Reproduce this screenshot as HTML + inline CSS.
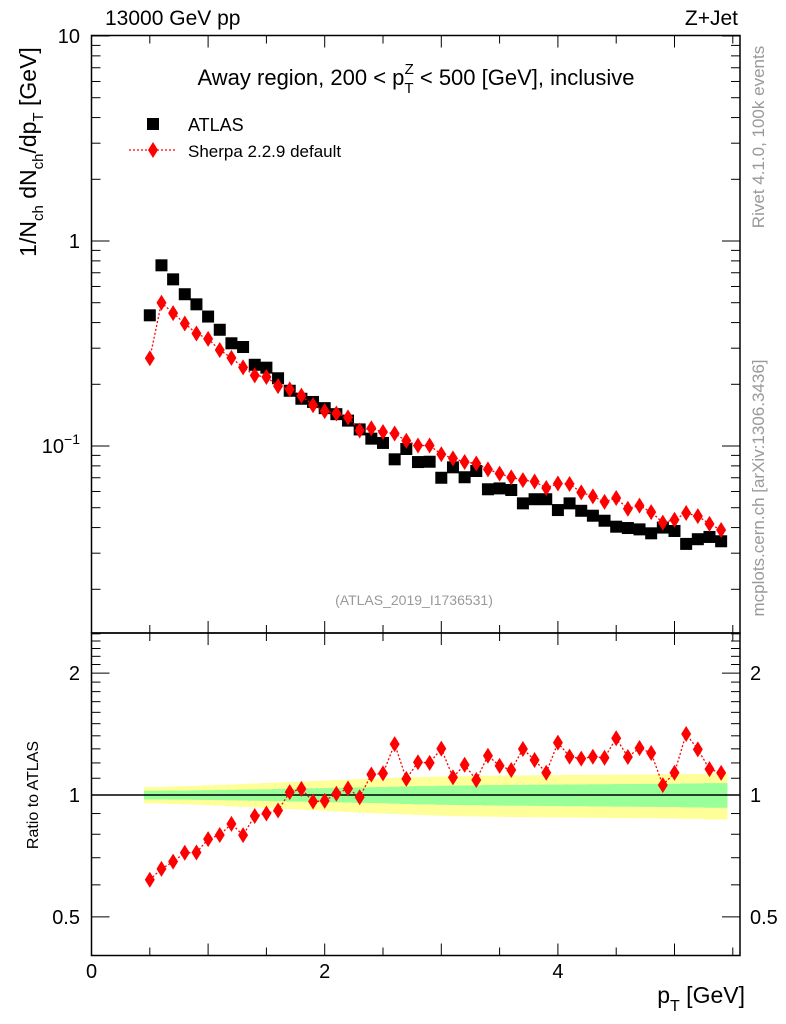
<!DOCTYPE html>
<html><head><meta charset="utf-8"><style>
body{margin:0;background:#fff;}
svg{display:block;font-family:"Liberation Sans",Arial,sans-serif;}
</style></head><body>
<svg id="c" width="786" height="1024" viewBox="0 0 786 1024"></svg>
<script>
const xs=[0.5,0.6,0.7,0.8,0.9,1.0,1.1,1.2,1.3,1.4,1.5,1.6,1.7,1.8,1.9,2.0,2.1,2.2,2.3,2.4,2.5,2.6,2.7,2.8,2.9,3.0,3.1,3.2,3.3,3.4,3.5,3.6,3.7,3.8,3.9,4.0,4.1,4.2,4.3,4.4,4.5,4.6,4.7,4.8,4.9,5.0,5.1,5.2,5.3,5.4];
const atlas=[0.434,0.761,0.650,0.550,0.491,0.428,0.369,0.317,0.304,0.249,0.241,0.214,0.186,0.170,0.164,0.153,0.143,0.133,0.1205,0.1086,0.1035,0.0861,0.0967,0.0835,0.0838,0.0700,0.0787,0.0704,0.0755,0.0615,0.0621,0.0610,0.0525,0.0550,0.0550,0.0487,0.0525,0.0483,0.0457,0.0432,0.0404,0.0398,0.0392,0.0375,0.0400,0.0385,0.0333,0.0351,0.0360,0.0343];
const sherpa=[0.268,0.500,0.445,0.396,0.354,0.333,0.294,0.269,0.242,0.221,0.217,0.196,0.189,0.176,0.158,0.148,0.144,0.138,0.119,0.122,0.117,0.115,0.106,0.1006,0.1006,0.0911,0.0870,0.0836,0.0822,0.0769,0.0733,0.0703,0.0682,0.0671,0.0624,0.0656,0.0653,0.0594,0.0568,0.0534,0.0558,0.0494,0.0512,0.0476,0.0423,0.0437,0.0471,0.0455,0.0417,0.0389];
const statErr=[0.025,0.025,0.026,0.026,0.027,0.028,0.029,0.030,0.031,0.032,0.033,0.035,0.036,0.037,0.039,0.040,0.041,0.042,0.044,0.045,0.046,0.048,0.050,0.052,0.052,0.054,0.055,0.056,0.056,0.058,0.058,0.059,0.059,0.060,0.061,0.061,0.062,0.062,0.063,0.063,0.064,0.064,0.065,0.065,0.066,0.066,0.068,0.068,0.070,0.070];
const totErr=[0.047,0.047,0.050,0.052,0.054,0.057,0.059,0.062,0.065,0.068,0.071,0.074,0.077,0.080,0.083,0.086,0.089,0.092,0.095,0.098,0.100,0.103,0.105,0.107,0.109,0.111,0.113,0.114,0.115,0.116,0.117,0.118,0.118,0.119,0.120,0.120,0.121,0.121,0.122,0.122,0.123,0.123,0.124,0.124,0.125,0.125,0.127,0.127,0.130,0.130];
const yTicks=[{v:10,t:"10"},{v:1,t:"1"}];
const rTicks=[{v:2,t:"2"},{v:1,t:"1"},{v:0.5,t:"0.5"}];
const xTicks=[0,2,4];

const NS="http://www.w3.org/2000/svg";
const svg=document.getElementById('c');
const L=91.5,R=740,T=35.5,M=633,B=955.5;
const X=v=>91.5+v*116.6;
const Y=v=>241-Math.log10(v)*205;
const RY=v=>795-Math.log10(v)*405;
function el(tag,a,parent){const e=document.createElementNS(NS,tag);for(const k in a)e.setAttribute(k,a[k]);(parent||svg).appendChild(e);return e;}
function txt(s,a){const e=el('text',a);e.textContent=s;return e;}

const gB=el('g',{});


xs.forEach((x,i)=>{
  const x0=X(x-0.05),x1=X(x+0.05);
  const ry=el('rect',{x:x0,y:RY(1+totErr[i]),width:x1-x0+0.5,height:RY(1-totErr[i])-RY(1+totErr[i]),fill:'#ffff99'},gB);
  
  
});
xs.forEach((x,i)=>{
  const x0=X(x-0.05),x1=X(x+0.05);
  const rg=el('rect',{x:x0,y:RY(1+statErr[i]),width:x1-x0+0.5,height:RY(1-statErr[i])-RY(1+statErr[i]),fill:'#99ff99'},gB);
  
  
});
const one=el('line',{x1:L,x2:R,y1:RY(1),y2:RY(1),stroke:'#000','stroke-width':1.5});



const f1=el('rect',{x:L,y:T,width:R-L,height:M-T,fill:'none',stroke:'#000','stroke-width':1.5});


const f2=el('rect',{x:L,y:M,width:R-L,height:B-M,fill:'none',stroke:'#000','stroke-width':1.5});



for(let k=0;k<=11;k++){const v=k*0.5,px=X(v);if(px>R)break;const len=(k%2==0)?12:8;
  [[T,T+len],[M,M-len],[M,M+len],[B,B-len]].forEach(p=>el('line',{x1:px,x2:px,y1:p[0],y2:p[1],stroke:'#000','stroke-width':1}));}
xTicks.forEach(v=>{const t=txt(String(v),{x:X(v),y:978,'text-anchor':'middle','font-size':20});
  });
for(let d=-2;d<=1;d++){for(let m=1;m<=9;m++){const v=m*Math.pow(10,d);const py=Y(v);if(py<T-0.5||py>M)continue;const len=m==1?18:9;
  el('line',{x1:L,x2:L+len,y1:py,y2:py,stroke:'#000'});el('line',{x1:R,x2:R-len,y1:py,y2:py,stroke:'#000'});}}
yTicks.forEach(o=>{const t=txt(o.t,{x:80,y:Y(o.v)+7,'text-anchor':'end','font-size':20});
  });
const tm=txt('',{x:80,y:Y(0.1)+7,'text-anchor':'end','font-size':20});
tm.innerHTML='10<tspan dy="-9" font-size="14">−1</tspan>';

[0.5,0.6,0.7,0.8,0.9,1,1.1,1.2,1.3,1.4,1.5,1.6,1.7,1.8,1.9,2,2.1,2.2,2.3,2.4,2.5].forEach(v=>{const py=RY(v);if(py<M)return;const len=(v==0.5||v==1||v==2)?18:9;
  el('line',{x1:L,x2:L+len,y1:py,y2:py,stroke:'#000'});el('line',{x1:R,x2:R-len,y1:py,y2:py,stroke:'#000'});});
rTicks.forEach(o=>{const a=txt(o.t,{x:80,y:RY(o.v)+7,'text-anchor':'end','font-size':20});
  
  const b=txt(o.t,{x:750,y:RY(o.v)+7,'font-size':20});
  });

const gA=el('g',{});
xs.forEach((x,i)=>{const r=el('rect',{x:X(x)-6,y:Y(atlas[i])-6,width:12,height:12,fill:'#000'},gA);
  });
function diamonds(vals,fy,name){
  const g=el('g',{});
  el('polyline',{points:xs.map((x,i)=>X(x)+','+fy(vals[i])).join(' '),fill:'none',stroke:'#f00','stroke-width':1.3,'stroke-dasharray':'2,2'},g);
  xs.forEach((x,i)=>{const px=X(x),py=fy(vals[i]);
    const p=el('polygon',{points:`${px},${py-8} ${px+5},${py} ${px},${py+8} ${px-5},${py}`,fill:'#f00'},g);
    });
}
diamonds(sherpa,Y,'sherpa-series');
diamonds(sherpa.map((s,i)=>s/atlas[i]),RY,'sherpa-ratio-series');

const t1=txt('13000 GeV pp',{x:105,y:25,'font-size':21});
const t2=txt('Z+Jet',{x:738,y:25,'text-anchor':'end','font-size':21});
const t3=txt('',{x:416,y:85,'text-anchor':'middle','font-size':22});
t3.innerHTML='Away region, 200 &lt; p<tspan dy="8" font-size="15">T</tspan><tspan dy="-19" dx="-9" font-size="15">Z</tspan><tspan dy="11"> &lt; 500 [GeV], inclusive</tspan>';

const lg=el('rect',{x:147,y:118,width:12,height:12,fill:'#000'});
const l1=txt('ATLAS',{x:188,y:131,'font-size':18});
el('line',{x1:129,x2:176,y1:150,y2:150,stroke:'#f00','stroke-width':1.3,'stroke-dasharray':'2,2'});
const ld=el('polygon',{points:'153,142 158,150 153,158 148,150',fill:'#f00'});
const l2=txt('Sherpa 2.2.9 default',{x:188,y:157,'font-size':17});
const an=txt('(ATLAS_2019_I1736531)',{x:414,y:605,'text-anchor':'middle','font-size':14,fill:'#999'});
const yl=txt('',{transform:'translate(36,152) rotate(-90)','text-anchor':'middle','font-size':23});
yl.innerHTML='1/N<tspan dy="7" font-size="15">ch</tspan><tspan dy="-7"> dN</tspan><tspan dy="7" font-size="15">ch</tspan><tspan dy="-7">/dp</tspan><tspan dy="7" font-size="15">T</tspan><tspan dy="-7"> [GeV]</tspan>';

const rl=txt('Ratio to ATLAS',{transform:'translate(38,795) rotate(-90)','text-anchor':'middle','font-size':16});
const xl=txt('',{x:745,y:1003,'text-anchor':'end','font-size':23});
xl.innerHTML='p<tspan dy="8" font-size="16">T</tspan><tspan dy="-8"> [GeV]</tspan>';

const rv=txt('Rivet 4.1.0,  100k events',{transform:'translate(764,137) rotate(-90)','text-anchor':'middle','font-size':17,fill:'#999'});
const mc=txt('mcplots.cern.ch [arXiv:1306.3436]',{transform:'translate(764,488) rotate(-90)','text-anchor':'middle','font-size':17,fill:'#999'});
</script>
</body></html>
